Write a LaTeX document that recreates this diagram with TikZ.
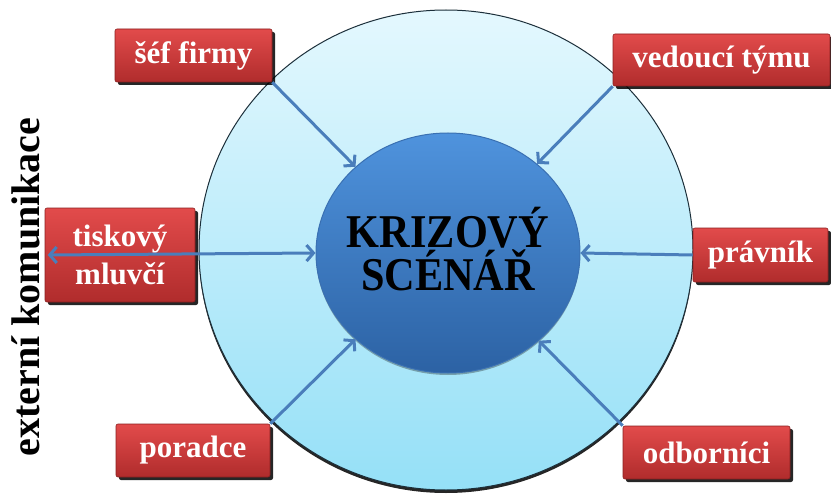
\documentclass[tikz,border=0pt]{standalone}
\usepackage{fontspec}
\setmainfont{Liberation Serif}
\usetikzlibrary{arrows.meta,shadows,shapes.geometric}
\definecolor{boxtop}{HTML}{E24B4B}
\definecolor{boxbottom}{HTML}{B02C2C}
\definecolor{boxedge}{HTML}{8A2020}
\definecolor{ringtop}{HTML}{E4F8FE}
\definecolor{ringbottom}{HTML}{95E0F7}
\definecolor{ringedge}{HTML}{1C2F3A}
\definecolor{coretop}{HTML}{4F93DD}
\definecolor{corebottom}{HTML}{2C62A4}
\definecolor{coreedge}{HTML}{3A70B2}
\definecolor{arrowblue}{HTML}{4A7EBB}
\tikzset{
  rolebox/.style={rectangle, rounded corners=2pt, draw=boxedge, line width=0.6pt,
    top color=boxtop, bottom color=boxbottom, text=white, align=center, inner sep=0pt,
    font=\fontsize{31}{38}\selectfont\bfseries,
    drop shadow={shadow xshift=3pt, shadow yshift=-3pt, fill=black, opacity=0.85}},
  link/.style={arrowblue, line width=3pt, -{Straight Barb[length=7pt,width=16pt]}}
}

\begin{document}
\begin{tikzpicture}[x=1pt, y=-1pt]
  \useasboundingbox (0,0) rectangle (831,495);
  % Outer ring
  \node[ellipse, minimum width=494pt, minimum height=480pt, inner sep=0pt,
    draw=ringedge, line width=1pt, top color=ringtop, bottom color=ringbottom,
    drop shadow={shadow xshift=0pt, shadow yshift=-3pt, fill=black, opacity=0.85}]
    (ring) at (446,250) {};
  % Centre
  \node[ellipse, minimum width=264pt, minimum height=240pt, inner sep=0pt,
    draw=coreedge, line width=1pt, top color=coretop, bottom color=corebottom,
    drop shadow={shadow xshift=0pt, shadow yshift=-2pt, fill=black, opacity=0.3}]
    (core) at (448,253) {};
  \node[align=center, font=\fontsize{47}{43}\selectfont\bfseries] (title) at ([yshift=4pt]core.center)
    {\scalebox{0.9}[1]{KRIZOVÝ}\\\scalebox{0.9}[1]{SCÉNÁŘ}};
  % Roles
  \node[rolebox, minimum width=157pt, minimum height=53pt] (chief) at (193.5,55.5) {šéf firmy};
  \node[rolebox, minimum width=217pt, minimum height=52pt] (leader) at (721.5,60) {vedoucí týmu};
  \node[rolebox, minimum width=150pt, minimum height=94pt] (spokes) at (120,255) {tiskový\\mluvčí};
  \node[rolebox, minimum width=135pt, minimum height=54pt] (lawyer) at (760.5,255) {právník};
  \node[rolebox, minimum width=154pt, minimum height=53pt] (adviser) at (193,450.5) {poradce};
  \node[rolebox, minimum width=167pt, minimum height=53pt] (experts) at (706.5,452.5) {odborníci};
  % Side label
  \node[rotate=90, font=\fontsize{40}{40}\selectfont\bfseries] (outreach) at (26,287) {externí komunikace};
  % Arrows
  \draw[link] (chief.south east) -- (core.137);
  \draw[link] (leader.south west) -- (core.45);
  \draw[link] (lawyer.west) -- (core.east);
  \draw[link] (adviser.north east) -- (core.223);
  \draw[link] (experts.north west) -- (core.316);
  \draw[link, {Straight Barb[length=7pt,width=16pt]}-{Straight Barb[length=7pt,width=16pt]}]
    ([xshift=3pt]spokes.west) -- (core.west);
\end{tikzpicture}
\end{document}
